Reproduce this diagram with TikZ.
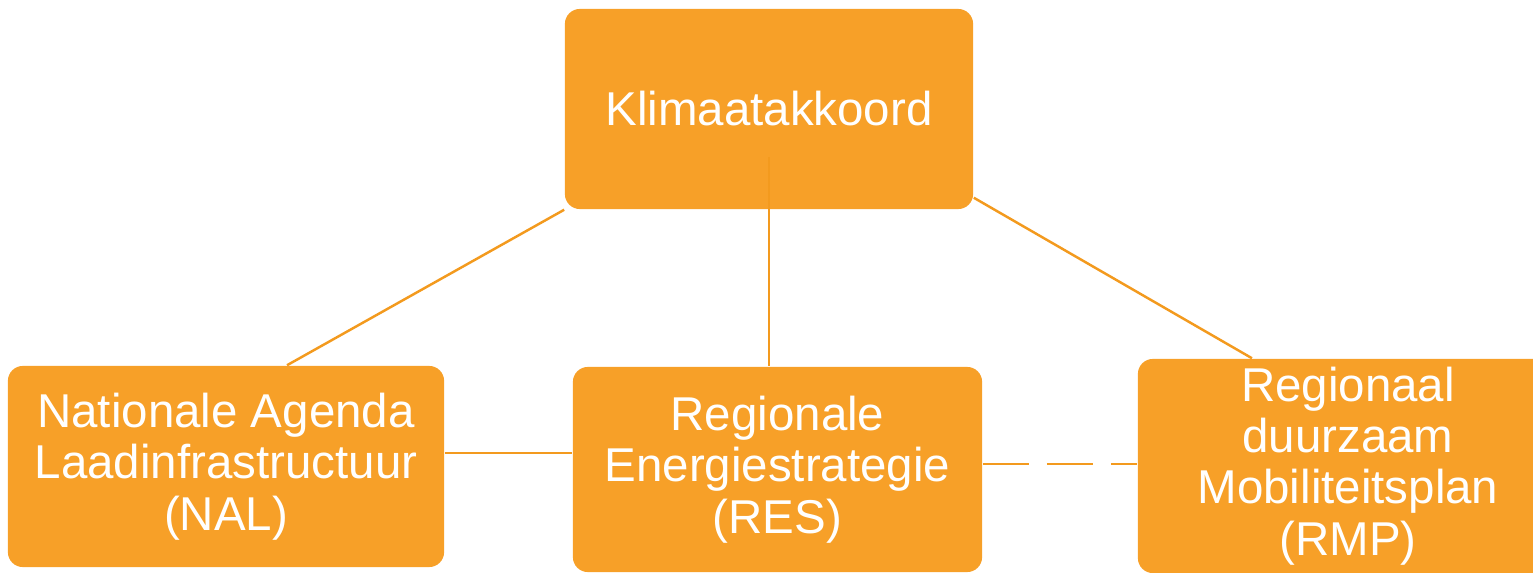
\documentclass[tikz,border=0pt]{standalone}
\usepackage{fontspec}
\setmainfont{Liberation Sans}
\usetikzlibrary{calc}
\definecolor{oranje}{HTML}{F7A028}
\definecolor{lijn}{HTML}{F39A1E}

\begin{document}
\begin{tikzpicture}[x=0.01cm,y=-0.01cm,
    blok/.style={fill=oranje, rounded corners=0.15cm, text=white, align=center,
      inner sep=0pt, font=\fontsize{13.5}{14.6}\selectfont},
    verband/.style={draw=lijn, line width=0.7pt}]
	\useasboundingbox (0,0) rectangle (1533,573);
	\clip (0,0) rectangle (1533,573);
	% blokken
	\node[blok, minimum width=4.08cm, minimum height=2.00cm] (klimaat) at (769,109) {Klimaatakkoord};
	\node[blok, minimum width=4.36cm, minimum height=2.01cm] (nal) at (226,466.5) {Nationale Agenda\\Laadinfrastructuur\\(NAL)};
	\node[blok, minimum width=4.09cm, minimum height=2.05cm] (res) at (777.5,469.5) {Regionale\\Energiestrategie\\(RES)};
	\node[blok, minimum width=4.20cm, minimum height=2.14cm] (rmp) at (1348,466) {Regionaal\\duurzaam\\Mobiliteitsplan\\(RMP)};
	% verbindingen
	\draw[verband] ([yshift=-0.48cm]klimaat.center) -- (klimaat.south |- res.north);
	\draw[verband] (klimaat.south west) -- ([xshift=0.61cm]nal.north);
	\draw[verband] ([yshift=0.12cm]klimaat.south east) -- ([xshift=-0.96cm]rmp.north);
	\draw[verband] ([yshift=0.135cm]nal.east) -- ([yshift=0.135cm]nal.east -| res.west);
	\draw[verband, dash pattern=on 0.46cm off 0.18cm] ([yshift=0.055cm]res.east) -- ([yshift=0.055cm]res.east -| rmp.west);
\end{tikzpicture}
\end{document}
